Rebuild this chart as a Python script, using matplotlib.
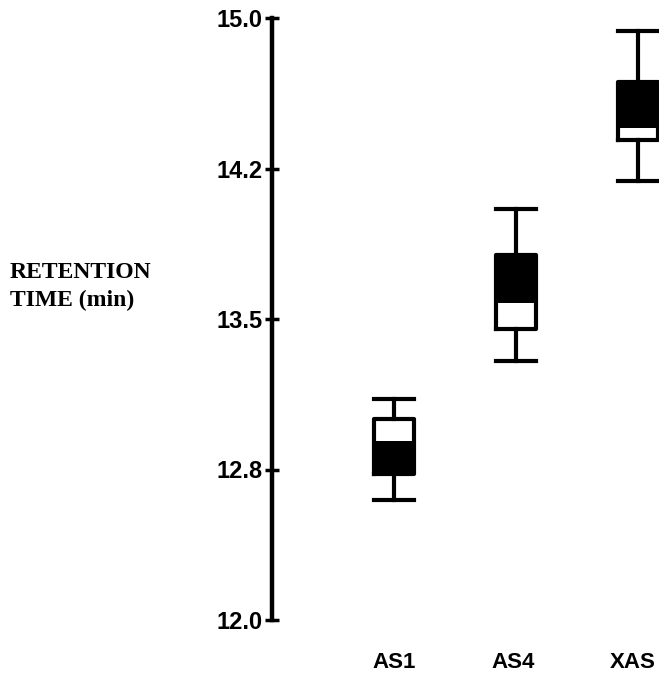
import numpy as np
import matplotlib
matplotlib.use("Agg")
import matplotlib.pyplot as plt
from matplotlib.patches import Rectangle

# retention time box plots
groups = ["AS1", "AS4", "XAS"]
whisker_lo = [12.60, 13.29, 14.19]
box_lo = [12.73, 13.45, 14.39]
box_hi = [13.00, 13.82, 14.68]
whisker_hi = [13.10, 14.05, 14.935]
# shaded (black) part of each box
fill_lo = [12.73, 13.58, 14.45]
fill_hi = [12.89, 13.82, 14.68]

yticks = [12.0, 12.75, 13.5, 14.25, 15.0]
ytick_labels = ["12.0", "12.8", "13.5", "14.2", "15.0"]

W, H = 659, 678
fig = plt.figure(figsize=(W / 100, H / 100), dpi=100)
ax = fig.add_axes([272 / W, (H - 620) / H, (W - 272) / W, 602 / H])

pos = np.arange(1, len(groups) + 1)
width = 0.33

stats = []
for i, g in enumerate(groups):
    stats.append({"label": g, "whislo": whisker_lo[i], "q1": box_lo[i],
                  "med": box_lo[i], "q3": box_hi[i], "whishi": whisker_hi[i],
                  "fliers": []})

for i, p in enumerate(pos):
    ax.add_patch(Rectangle((p - width / 2, fill_lo[i]), width,
                           fill_hi[i] - fill_lo[i], facecolor="black",
                           edgecolor="none", zorder=1, clip_on=False))

ax.bxp(stats, positions=pos, widths=width, showfliers=False,
       boxprops=dict(linewidth=3, color="black"),
       whiskerprops=dict(linewidth=3, color="black"),
       capprops=dict(linewidth=3, color="black"),
       medianprops=dict(linewidth=0, color="none"),
       capwidths=width, manage_ticks=False)
for artist in ax.get_children():
    artist.set_clip_on(False)

ax.set_xlim(0, (W - 272) / 122)
ax.set_ylim(12.0, 15.0)

for s in ["top", "right", "bottom"]:
    ax.spines[s].set_visible(False)
ax.spines["left"].set_linewidth(3.2)

ax.set_yticks(yticks)
ax.set_yticklabels(ytick_labels, fontsize=17, fontweight="bold",
                   family="Liberation Sans")
ax.tick_params(axis="y", direction="inout", length=10, width=2.5, pad=2)

# labels sit a little left of the boxes in the original
ax.set_xticks(pos - np.array([0.0, 0.02, 0.045]))
ax.set_xticklabels(groups, fontsize=16, fontweight="bold",
                   family="Liberation Sans")
ax.tick_params(axis="x", length=0, pad=23)

fig.text(10 / W, 1 - 262 / H, "RETENTION\nTIME (min)", ha="left", va="top",
         fontsize=17, fontweight="bold", family="Liberation Serif",
         linespacing=1.4)

fig.savefig("out.png", dpi=100)
